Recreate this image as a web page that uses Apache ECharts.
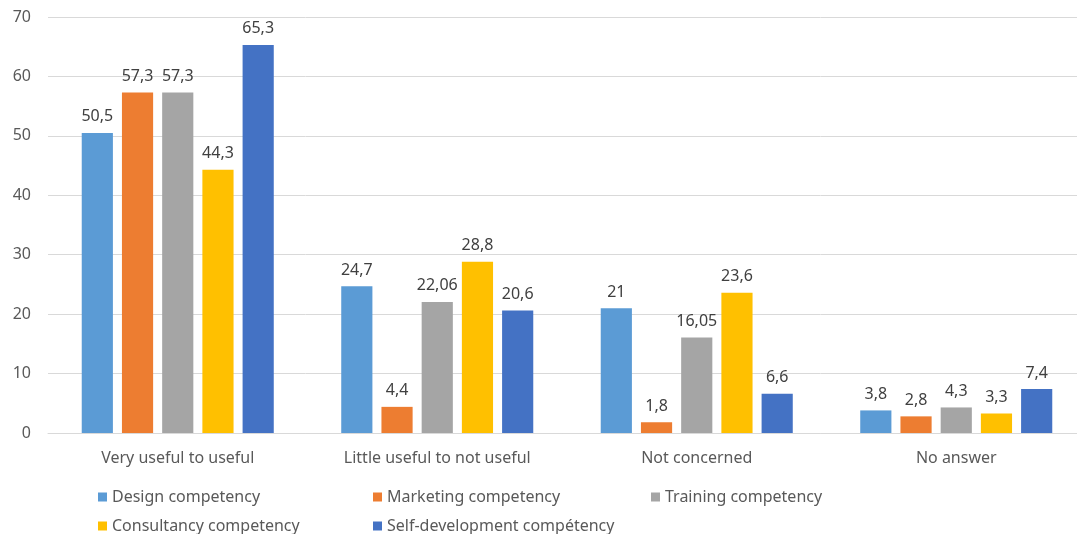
<!DOCTYPE html>
<html lang="en">
<head>
    <meta charset="UTF-8">
    <title>Competency usefulness</title>
    <script src="https://cdn.jsdelivr.net/npm/echarts@6/dist/echarts.min.js"></script>
</head>
<body style="margin:0">
    <div id="main" style="width: 1077px; height: 534px;"></div>
    <script>
        // categories and values
        const categories = ['Very useful to useful', 'Little useful to not useful', 'Not concerned', 'No answer'];
        const seriesNames = ['Design competency', 'Marketing competency', 'Training competency', 'Consultancy competency', 'Self-development compétency'];
        const design = [50.5, 24.7, 21, 3.8];
        const marketing = [57.3, 4.4, 1.8, 2.8];
        const training = [57.3, 22.06, 16.05, 4.3];
        const consultancy = [44.3, 28.8, 23.6, 3.3];
        const selfDev = [65.3, 20.6, 6.6, 7.4];
        const colors = ['#5B9BD5', '#ED7D31', '#A5A5A5', '#FFC000', '#4472C4'];

        const font = '"Noto Sans", sans-serif';
        const values = [design, marketing, training, consultancy, selfDev];

        // legend placed like the original: 3 then 2 per row
        const legendPos = [[93, 484], [368, 484], [646, 484], [93, 513], [368, 513]];

        var myChart = echarts.init(document.getElementById('main'));
        let option = {
            color: colors,
            textStyle: { fontFamily: font },
            // plot area runs a bit past the right edge, like the cropped original
            grid: { left: 48, top: 17, width: 1038, bottom: 101, outerBoundsMode: 'none' },
            legend: seriesNames.map((n, i) => ({
                data: [n],
                left: legendPos[i][0],
                top: legendPos[i][1],
                icon: 'rect',
                itemWidth: 9,
                itemHeight: 9,
                itemGap: 5,
                textStyle: { fontSize: 16, color: '#595959', fontFamily: font }
            })),
            xAxis: {
                type: 'category',
                data: categories,
                axisTick: { show: false },
                axisLine: { lineStyle: { color: '#D9D9D9' } },
                axisLabel: { fontSize: 16, color: '#595959', margin: 17 }
            },
            yAxis: {
                type: 'value',
                min: 0,
                max: 70,
                interval: 10,
                axisLabel: { fontSize: 16, color: '#595959', margin: 17 },
                splitLine: { lineStyle: { color: '#D9D9D9' } }
            },
            series: seriesNames.map((n, i) => ({
                name: n,
                type: 'bar',
                data: values[i],
                barGap: '29%',
                barCategoryGap: '26%',
                label: {
                    show: true,
                    position: 'top',
                    distance: 8,
                    fontSize: 16,
                    color: '#404040',
                    formatter: p => String(p.value).replace('.', ',')
                }
            }))
        };
        myChart.setOption(option);
    </script>
</body>
</html>
